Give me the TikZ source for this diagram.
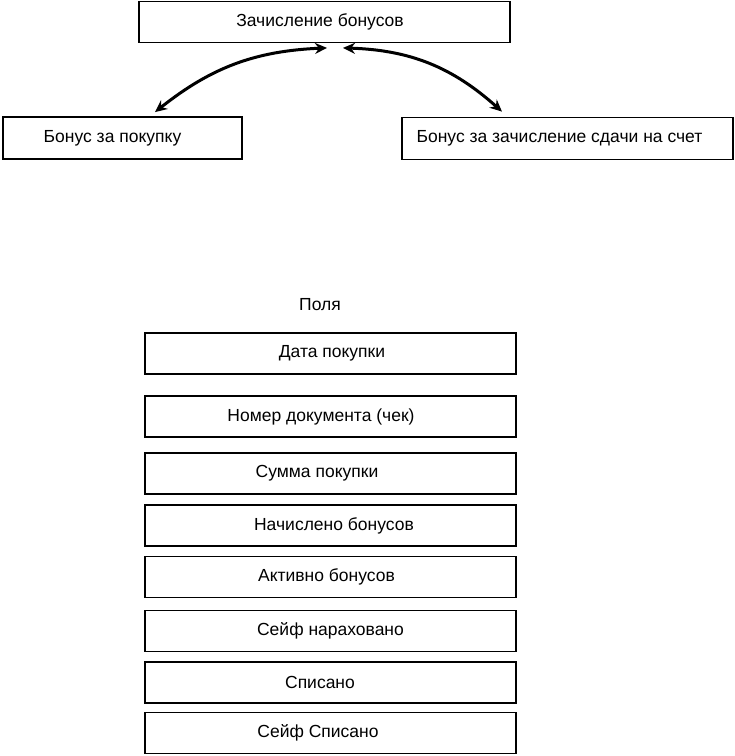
\documentclass[tikz,border=0pt]{standalone}
\usepackage{fontspec}
\setmainfont{Liberation Sans}
\usepackage{tikz}
\usetikzlibrary{positioning,arrows.meta,calc}

\tikzset{
  box/.style={draw, rectangle, line width=1.8pt, fill=white, minimum height=41pt, font=\fontsize{17.5}{21}\selectfont},
  field/.style={box, minimum width=371pt},
  textoff/.style={execute at end node={\hspace*{#1}}},
  link/.style={{Stealth[length=12pt,width=11pt]}-{Stealth[length=12pt,width=11pt]}, line width=3pt}
}

\begin{document}
\begin{tikzpicture}[x=1pt, y=-1pt]
      \useasboundingbox (0,0) rectangle (735,756);
      %bonus
      \node[box, minimum width=371pt, textoff=9pt] (zach) at (324.5,22) {Зачисление бонусов};
      \node[box, minimum width=239pt, minimum height=42pt, textoff=20pt] (pokupka) at (122.5,138) {Бонус за покупку};
      \node[box, minimum width=331pt, minimum height=42pt, textoff=16pt] (sdacha) at (567.5,138.5) {Бонус за зачисление сдачи на счет};
      \draw[link] ([xshift=2.5pt, yshift=-4.5pt]zach.south) to[bend right=18] ([xshift=32.5pt, yshift=4pt]pokupka.north);
      \draw[link] ([xshift=18.5pt, yshift=-4.5pt]zach.south) to[bend left=20] ([xshift=-65.5pt, yshift=5pt]sdacha.north);

      %campi
      \node[font=\fontsize{17.5}{21}\selectfont] (polya) at (320,305) {Поля};
      \node[field, textoff=-3pt] (data) at (330.5,353.5) {Дата покупки};
      \node[field, textoff=19pt] (nomer) at (330.5,416.5) {Номер документа (чек)};
      \node[field, textoff=27pt] (summa) at (330.5,473.5) {Сумма покупки};
      \node[field, textoff=-7pt] (nachisl) at (330.5,525.5) {Начислено бонусов};
      \node[field, textoff=8pt] (aktiv) at (330.5,577) {Активно бонусов};
      \node[field] (seif) at (330.5,631) {Сейф нараховано};
      \node[field, textoff=21pt] (spis) at (330.5,682.5) {Списано};
      \node[field, textoff=25pt] (seifspis) at (330.5,733) {Сейф Списано};
\end{tikzpicture}
\end{document}
